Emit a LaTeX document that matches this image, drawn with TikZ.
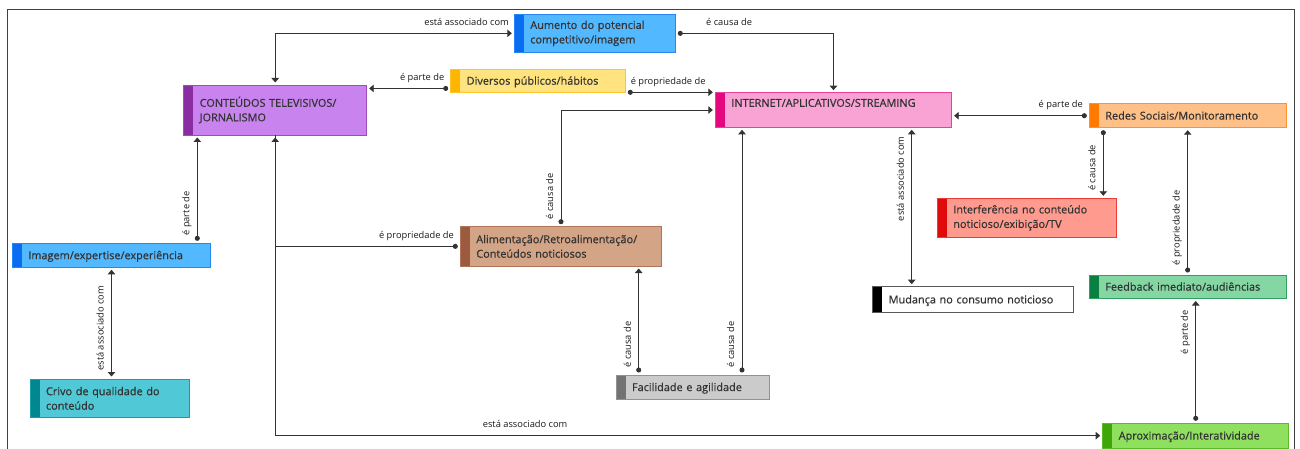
\documentclass[tikz,border=0pt]{standalone}
\usepackage{fontspec}
\setmainfont{Open Sans}
\newfontfamily\conceptfamily{Open Sans}[FakeBold=0.6]
\usetikzlibrary{
    arrows.meta,
}
\definecolor{aumentofill}{HTML}{52B8FF}
\definecolor{aumentobar}{HTML}{0A6CF0}
\definecolor{diversosfill}{HTML}{FFE37E}
\definecolor{diversosbar}{HTML}{FFB400}
\definecolor{conteudosfill}{HTML}{C883EE}
\definecolor{conteudosbar}{HTML}{8A2CA2}
\definecolor{internetfill}{HTML}{F9A3D5}
\definecolor{internetbar}{HTML}{E4087F}
\definecolor{redesfill}{HTML}{FFC088}
\definecolor{redesbar}{HTML}{FF7A00}
\definecolor{alimfill}{HTML}{D4A487}
\definecolor{alimbar}{HTML}{9C5B3E}
\definecolor{interffill}{HTML}{FF9A8E}
\definecolor{interfbar}{HTML}{E00A0A}
\definecolor{feedbackfill}{HTML}{84D6A2}
\definecolor{feedbackbar}{HTML}{0A8040}
\definecolor{crivofill}{HTML}{50C8D5}
\definecolor{crivobar}{HTML}{00878F}
\definecolor{facilfill}{HTML}{CBCBCB}
\definecolor{facilbar}{HTML}{737373}
\definecolor{aproxfill}{HTML}{8EE05E}
\definecolor{aproxbar}{HTML}{3FA608}
\definecolor{conceptext}{HTML}{333333}
\newcommand{\conceptfont}{\conceptfamily\fontsize{10.9}{14.5}\selectfont}
\newcommand{\linkfont}{\fontsize{9.3}{11}\selectfont}
\tikzset{
    concept/.style 2 args={rectangle, fill=#1, draw=#2!65!#1, line width=0.8pt, text=conceptext,
        font=\conceptfont, align=left, inner xsep=16pt, inner ysep=0pt, anchor=north west, outer sep=0pt,
        path picture={\fill[#2] (path picture bounding box.north west) rectangle ([xshift=9.5pt]path picture bounding box.south west);}},
    box/.code 2 args={\pgfmathsetmacro\boxtw{#1-32}%
        \edef\boxset{\noexpand\tikzset{minimum width=#1pt, minimum height=#2pt, text width=\boxtw pt}}\boxset},
    oneline/.style={text height=7.8pt, text depth=0pt},
    lbl/.style={font=\linkfont, text=black!90, inner xsep=2pt, inner ysep=7.5pt, text depth=0pt},
    link/.style={draw=black!80, line width=0.9pt},
    dotarrow/.style={link, {Circle[length=5pt]}-{Triangle[length=4.5pt,width=7.5pt]}, shorten <=2.5pt, shorten >=2.5pt},
    revdot/.style={link, {Triangle[length=4.5pt,width=7.5pt]}-{Circle[length=5pt]}, shorten <=2.5pt, shorten >=2.5pt},
    twoway/.style={link, {Triangle[length=4.5pt,width=7.5pt]}-{Triangle[length=4.5pt,width=7.5pt]}, shorten <=2.5pt, shorten >=2.5pt},
    oneway/.style={link, -{Triangle[length=4.5pt,width=7.5pt]}, shorten >=2.5pt},
}

\begin{document}
\begin{tikzpicture}[x=1pt, y=-1pt]
    \useasboundingbox (0,0) rectangle (1300,449);
    \draw[black!75, line width=0.8pt] (7,460) -- (7,9) -- (1294,9) -- (1294,460);

    \node[concept={aumentofill}{aumentobar}, box={161}{38.7}] (aumento) at (514.3,14) {Aumento do potencial\\competitivo/imagem};
    \node[concept={diversosfill}{diversosbar}, box={174.6}{23}, oneline] (diversos) at (450.7,69.3) {Diversos públicos/hábitos};
    \node[concept={conteudosfill}{conteudosbar}, box={183}{50}] (conteudos) at (183.7,85) {CONTEÚDOS TELEVISIVOS/\\JORNALISMO};
    \node[concept={internetfill}{internetbar}, box={236.4}{34.6}, text height=7.8pt, text depth=14.2pt] (internet) at (715.3,92.7) {INTERNET/APLICATIVOS/STREAMING};
    \node[concept={redesfill}{redesbar}, box={196.7}{24}, oneline] (redes) at (1089.3,103.7) {Redes Sociais/Monitoramento};

    \node[concept={aumentofill}{aumentobar}, box={198.4}{24}, oneline] (imagem) at (12.3,243.3) {Imagem/expertise/experiência};
    \node[concept={alimfill}{alimbar}, box={201.4}{39.3}] (alimentacao) at (460.3,226.7) {Alimentação/Retroalimentação/\\Conteúdos noticiosos};
    \node[concept={interffill}{interfbar}, box={179.4}{39}] (interferencia) at (937.3,198.3) {Interferência no conteúdo\\noticioso/exibição/TV};
    \node[concept={white}{black}, box={200.6}{25.6}, oneline] (mudanca) at (872.7,286.7) {Mudança no consumo noticioso};
    \node[concept={feedbackfill}{feedbackbar}, box={196.7}{23.5}, oneline] (feedback) at (1089.3,275) {Feedback imediato/audiências};

    \node[concept={crivofill}{crivobar}, box={159}{38.7}] (crivo) at (30,379) {Crivo de qualidade do\\conteúdo};
    \node[concept={facilfill}{facilbar}, box={153}{24.3}, oneline] (facilidade) at (616,375) {Facilidade e agilidade};
    \node[concept={aproxfill}{aproxbar}, box={186}{24.7}, oneline] (aproximacao) at (1102.7,423.3) {Aproximação/Interatividade};

    % ===== CONNECTIONS =====
    \draw[twoway] (conteudos.north) |- (aumento.west)
        node[lbl, pos=1, anchor=south east, xshift=-3pt] {está associado com};
    \draw[dotarrow] (aumento.east) -| (internet.north)
        node[lbl, pos=0.17, anchor=south] {é causa de};
    \draw[dotarrow] (diversos.185) -- (diversos.185 -| conteudos.east)
        node[lbl, pos=0, anchor=south east, xshift=-4pt] {é parte de};
    \draw[dotarrow] (diversos.south east) -- (diversos.south east -| internet.west)
        node[lbl, pos=0, anchor=south west, xshift=3pt] {é propriedade de};
    \draw[dotarrow] (alimentacao.north) |- (internet.west)
        node[lbl, sloped, pos=0.021, anchor=south west] {é causa de};
    \draw[dotarrow] ([xshift=-13.4pt]imagem.north east) -- ([xshift=-13.4pt]imagem.north east |- conteudos.south)
        node[lbl, sloped, pos=0.049, anchor=south west] {é parte de};
    \draw[dotarrow] (alimentacao.west) -| (conteudos.south)
        node[lbl, pos=0, anchor=south east, xshift=-4pt] {é propriedade de};
    \draw[oneway] (conteudos.south) |- (aproximacao.west)
        node[lbl, pos=0.651, anchor=south] {está associado com};
    \draw[twoway] (crivo.north -| imagem.south) -- (imagem.south)
        node[lbl, sloped, pos=0.054, anchor=south west] {está associado com};

    \draw[dotarrow] ([xshift=22.7pt]facilidade.north west) -- ([xshift=22.7pt]facilidade.north west |- alimentacao.south)
        node[lbl, sloped, pos=0.046, anchor=south west] {é causa de};
    \draw[dotarrow] ([xshift=-27pt]facilidade.north east) -- ([xshift=-27pt]facilidade.north east |- internet.south)
        node[lbl, sloped, pos=0.02, anchor=south west] {é causa de};
    \draw[twoway] ([xshift=39pt]mudanca.north west) -- ([xshift=39pt]mudanca.north west |- internet.south)
        node[lbl, sloped, pos=0.958, anchor=south east] {está associado com};

    \draw[dotarrow] (redes.west) -- (redes.west -| internet.east)
        node[lbl, pos=0, anchor=south east, xshift=-4pt] {é parte de};
    \draw[revdot] ([xshift=14pt]redes.south west |- interferencia.north) -- ([xshift=14pt]redes.south west)
        node[lbl, sloped, pos=0.07, anchor=south west] {é causa de};
    \draw[dotarrow] (feedback.north) -- (redes.south)
        node[lbl, sloped, pos=0.048, anchor=south west] {é propriedade de};
    \draw[dotarrow] (aproximacao.north) -- (aproximacao.north |- feedback.south)
        node[lbl, sloped, pos=0.73, anchor=south] {é parte de};
\end{tikzpicture}
\end{document}
